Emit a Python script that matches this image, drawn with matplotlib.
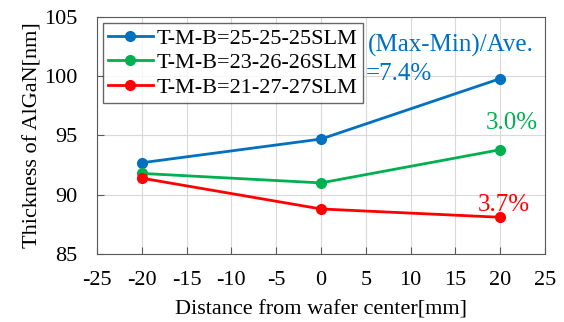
import matplotlib
matplotlib.use("Agg")
from matplotlib import pyplot as plt

plt.rcParams['font.family'] = ['Liberation Serif', 'DejaVu Serif']
plt.rcParams['axes.unicode_minus'] = False

# data
distance = [-20, 0, 20]
thick_25 = [92.7, 94.7, 99.8]
thick_23 = [91.8, 91.0, 93.8]
thick_21 = [91.4, 88.8, 88.1]
labels = ["T-M-B=25-25-25SLM", "T-M-B=23-26-26SLM", "T-M-B=21-27-27SLM"]
colors = ["#0070C0", "#00B050", "#FF0000"]

fig = plt.figure(figsize=(5.64, 3.22), dpi=100)
ax = fig.add_axes([97 / 564, 1 - 254 / 322, 448 / 564, 237 / 322])

for y, lab, c in zip([thick_25, thick_23, thick_21], labels, colors):
    ax.plot(distance, y, color=c, marker="o", markersize=7, linewidth=2, label=lab)

ax.set_xlim(-25, 25)
ax.set_ylim(85, 105)
ax.set_xticks(range(-25, 30, 5))
ax.set_yticks(range(85, 110, 5))
ax.grid(True, color="#d9d9d9", linewidth=0.8)
ax.set_axisbelow(True)
ax.tick_params(direction="in", labelsize=16, length=5, color="#595959")
ax.tick_params(axis="y", pad=14)
ax.tick_params(axis="x", pad=12)
for s in ax.spines.values():
    s.set_color("#595959")

ax.set_xlabel("Distance from wafer center[mm]", fontsize=16, labelpad=8)
ax.set_ylabel("Thickness of AlGaN[nm]", fontsize=16, labelpad=1)

leg = ax.legend(loc="upper left", fontsize=16, frameon=True, fancybox=False,
                edgecolor="#404040", borderpad=0.25, labelspacing=0.18,
                handlelength=2.0, handletextpad=0.2, borderaxespad=0.25)
leg.get_frame().set_linewidth(1.0)

fig.text(368 / 564, 1 - 45 / 322, "(Max-Min)/Ave.", color=colors[0], fontsize=18, va="center", ha="left")
fig.text(366 / 564, 1 - 74 / 322, "=7.4%", color=colors[0], fontsize=18, va="center", ha="left")
fig.text(538 / 564, 1 - 123 / 322, "3.0%", color=colors[1], fontsize=18, va="center", ha="right")
fig.text(530 / 564, 1 - 205 / 322, "3.7%", color=colors[2], fontsize=18, va="center", ha="right")

fig.savefig("out.png", dpi=100)
